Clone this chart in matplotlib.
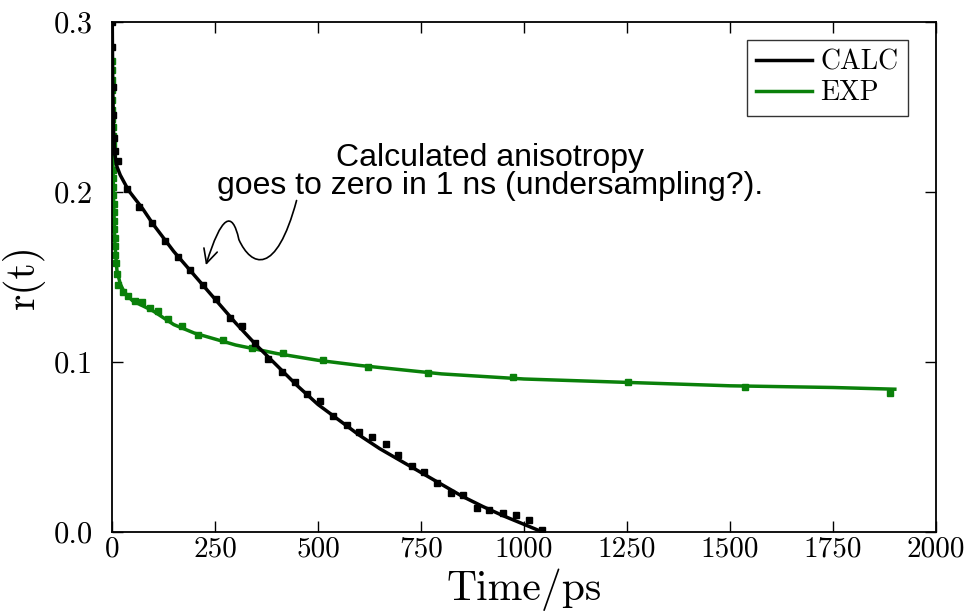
import matplotlib
matplotlib.use("Agg")
import matplotlib.pyplot as plt
from matplotlib.path import Path
from matplotlib.patches import FancyArrowPatch

plt.rcParams["font.family"] = "serif"
plt.rcParams["font.serif"] = ["cmr10"]
plt.rcParams["mathtext.fontset"] = "cm"
plt.rcParams["axes.formatter.use_mathtext"] = True

# CALC: sampled points and fitted curve
calc_t = [0, 1, 2, 3, 5, 8, 14, 36, 66, 97, 129, 160, 189, 221, 252, 286, 316, 347,
          379, 413, 444, 473, 505, 536, 570, 600, 631, 665, 694, 728, 757, 789,
          823, 852, 886, 915, 949, 981, 1012, 1044]
calc_r = [0.300, 0.285, 0.262, 0.245, 0.232, 0.224, 0.218, 0.202, 0.191, 0.182,
          0.171, 0.162, 0.154, 0.145, 0.137, 0.126, 0.121, 0.111, 0.102, 0.094,
          0.088, 0.081, 0.077, 0.068, 0.063, 0.059, 0.056, 0.052, 0.045, 0.039,
          0.035, 0.029, 0.023, 0.022, 0.014, 0.013, 0.011, 0.010, 0.007, 0.001]
calc_fit_t = [0, 1, 2, 4, 7, 12, 20, 40, 75, 100, 150, 200, 250, 300, 350, 400,
              450, 500, 550, 600, 650, 700, 750, 800, 850, 900, 950, 1000, 1045]
calc_fit_r = [0.330, 0.290, 0.260, 0.235, 0.222, 0.215, 0.210, 0.201, 0.190,
              0.181, 0.165, 0.151, 0.137, 0.123, 0.110, 0.098, 0.086, 0.075,
              0.066, 0.057, 0.049, 0.042, 0.035, 0.028, 0.021, 0.015, 0.0095,
              0.0045, 0.0]

# EXP: sampled points and fitted curve
exp_t = [0.0, 0.2, 0.4, 0.6, 0.8, 1.0, 1.2, 1.4, 1.6, 1.8, 2.0, 2.3, 2.6, 2.9,
         3.2, 3.6, 4.0, 4.5, 5.0, 5.6, 6.3, 7.0, 8.0, 9.5, 11.5, 15, 27, 39, 56,
         73, 92, 112, 136, 170, 209, 269, 340, 415, 512, 621, 767, 973, 1252,
         1536, 1889]
exp_r = [0.277, 0.272, 0.266, 0.260, 0.254, 0.248, 0.243, 0.238, 0.233, 0.228,
         0.223, 0.218, 0.213, 0.208, 0.203, 0.198, 0.193, 0.188, 0.183, 0.178,
         0.173, 0.168, 0.163, 0.158, 0.152, 0.145, 0.141, 0.139, 0.136, 0.135,
         0.132, 0.130, 0.125, 0.121, 0.116, 0.113, 0.108, 0.105, 0.101, 0.097,
         0.0935, 0.091, 0.088, 0.085, 0.082]
exp_fit_t = [0, 1, 2, 4, 7, 12, 20, 30, 50, 75, 100, 150, 200, 300, 400, 500,
             600, 800, 1000, 1250, 1500, 1750, 1900]
exp_fit_r = [0.277, 0.245, 0.222, 0.195, 0.170, 0.154, 0.146, 0.141, 0.136,
             0.133, 0.130, 0.122, 0.117, 0.110, 0.105, 0.101, 0.098, 0.093,
             0.090, 0.088, 0.086, 0.085, 0.084]

x_ticks = [0, 250, 500, 750, 1000, 1250, 1500, 1750, 2000]
y_ticks = [0.0, 0.1, 0.2, 0.3]

green = "#0a800a"

fig = plt.figure(figsize=(9.72, 6.11), dpi=100)
ax = fig.add_axes([0.1152, 0.1293, 0.8478, 0.8347])

ax.plot(calc_fit_t, calc_fit_r, color="black", lw=2.5, label="CALC", zorder=3)
ax.plot(calc_t, calc_r, ls="none", marker="s", ms=5, color="black", zorder=3)
ax.plot(exp_fit_t, exp_fit_r, color=green, lw=2.5, label="EXP", zorder=2)
ax.plot(exp_t, exp_r, ls="none", marker="s", ms=5, color=green, zorder=2)

ax.set_xlim(0, 2000)
ax.set_ylim(0, 0.3)
ax.set_xticks(x_ticks)
ax.set_xticklabels([str(v) for v in x_ticks])
ax.set_yticks(y_ticks)
ax.set_yticklabels(["%.1f" % v for v in y_ticks])
ax.tick_params(direction="in", top=True, right=True, length=8, width=1,
               labelsize=21)
ax.tick_params(axis="x", pad=3)
ax.tick_params(axis="y", labelsize=22, pad=14)
for s in ax.spines.values():
    s.set_linewidth(1.3)

ax.set_xlabel("Time/ps", fontsize=30, labelpad=4)
ax.set_ylabel("r(t)", fontsize=30, labelpad=6)

leg = ax.legend(loc="upper right", fontsize=20, frameon=True, fancybox=False,
                edgecolor="black", handlelength=2.0, handletextpad=0.3,
                borderpad=0.35, labelspacing=0.15, borderaxespad=0,
                bbox_to_anchor=(0.966, 0.965))
leg.get_frame().set_linewidth(1.0)

ax.text(0.459, 0.706, "Calculated anisotropy\ngoes to zero in 1 ns (undersampling?).",
        transform=ax.transAxes, ha="center", va="center", fontsize=23,
        family="Liberation Sans", linespacing=0.95)

# wavy arrow
verts = [(448, 0.195), (398, 0.150), (338, 0.156), (308, 0.172),
         (292, 0.190), (265, 0.186), (228, 0.157)]
codes = [Path.MOVETO, Path.CURVE4, Path.CURVE4, Path.CURVE4,
         Path.CURVE4, Path.CURVE4, Path.CURVE4]
arrow = FancyArrowPatch(path=Path(verts, codes),
                        arrowstyle="->,head_length=0.5,head_width=0.25",
                        mutation_scale=20, lw=1.2, color="black")
ax.add_patch(arrow)

fig.savefig("out.png", dpi=100)
